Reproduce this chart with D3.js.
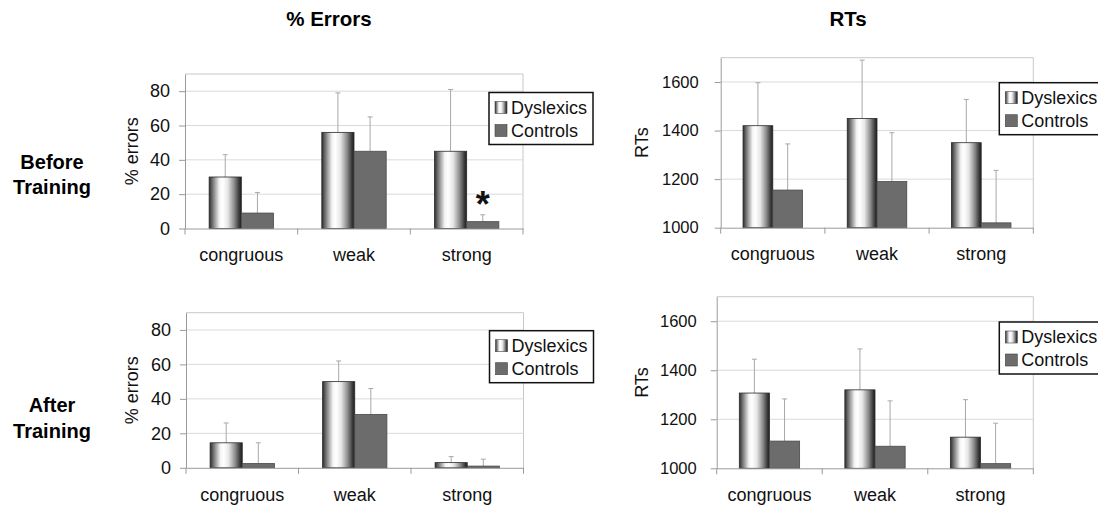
<!DOCTYPE html>
<html>
<head>
<meta charset="utf-8">
<script src="https://cdn.jsdelivr.net/npm/d3@7"></script>
<style>
    body { margin: 0; background: #fff; }
    svg { display: block; font-family: "Liberation Sans", Arial, sans-serif; }
</style>
</head>
<body>
<div id="chart"></div>
<script>
// data
const categories = ["congruous", "weak", "strong"];
const seriesNames = ["Dyslexics", "Controls"];

const errTicks = [0, 20, 40, 60, 80];
const rtTicks = [1000, 1200, 1400, 1600];

// % errors, before training
const errBeforeDys = [30, 56, 45];
const errBeforeDysSD = [13, 23, 36];
const errBeforeCtl = [9, 45, 4];
const errBeforeCtlSD = [12, 20, 4];

// % errors, after training
const errAfterDys = [14.5, 50, 3];
const errAfterDysSD = [11.5, 12, 3.5];
const errAfterCtl = [2.5, 31, 1];
const errAfterCtlSD = [12, 15, 4];

// RTs, before training
const rtBeforeDys = [1420, 1450, 1350];
const rtBeforeDysSD = [177, 240, 178];
const rtBeforeCtl = [1155, 1190, 1020];
const rtBeforeCtlSD = [190, 201, 216];

// RTs, after training
const rtAfterDys = [1307, 1320, 1127];
const rtAfterDysSD = [138, 167, 153];
const rtAfterCtl = [1111, 1090, 1019];
const rtAfterCtlSD = [172, 185, 165];

const svg = d3.select("#chart").append("svg")
    .attr("width", 1098)
    .attr("height", 506);

// gradient for the cylinder-like Dyslexics bars
const grad = svg.append("defs").append("linearGradient")
    .attr("id", "dysGrad")
    .attr("x1", "0%").attr("x2", "100%")
    .attr("y1", "0%").attr("y2", "0%");
[[0, "#2e2e2e"], [0.12, "#7a7a7a"], [0.32, "#f4f4f4"], [0.42, "#ffffff"],
 [0.58, "#e6e6e6"], [0.78, "#8c8c8c"], [0.93, "#3a3a3a"], [1, "#1e1e1e"]]
    .forEach(s => grad.append("stop").attr("offset", s[0]).attr("stop-color", s[1]));

const ctlFill = "#6c6c6c";

function makeRows(dys, dysSD, ctl, ctlSD) {
    return categories.map((c, i) => ({
        cat: c,
        vals: [
            {key: seriesNames[0], v: dys[i], sd: dysSD[i]},
            {key: seriesNames[1], v: ctl[i], sd: ctlSD[i]}
        ]
    }));
}

function drawPanel(p) {
    let g = svg.append("g");

    let x0 = d3.scaleBand()
        .domain(categories)
        .range([p.left, p.right])
        .padding(0);

    let x1 = d3.scaleBand()
        .domain(seriesNames)
        .range([0, x0.bandwidth()])
        .paddingInner(0)
        .paddingOuter(0.75);

    let y = d3.scaleLinear()
        .domain(p.domain)
        .range([p.bottom, p.top]);

    // plot frame (top + right)
    g.append("path")
        .attr("d", `M${p.left},${p.top}H${p.right}V${p.bottom}`)
        .attr("fill", "none")
        .attr("stroke", "#c8c8c8");

    // gridlines
    g.selectAll(".grid")
        .data(p.ticks.slice(1))
        .enter().append("line")
        .attr("x1", p.left).attr("x2", p.right)
        .attr("y1", d => y(d)).attr("y2", d => y(d))
        .attr("stroke", "#dadada");

    // y axis
    let yAxis = d3.axisLeft(y)
        .tickValues(p.ticks)
        .tickSizeInner(6)
        .tickSizeOuter(0)
        .tickPadding(p.tickPad)
        .tickFormat(d3.format("d"));
    let yg = g.append("g")
        .attr("transform", `translate(${p.left},0)`)
        .call(yAxis);
    yg.select(".domain").attr("stroke", "#9a9a9a");
    yg.selectAll(".tick line").attr("stroke", "#9a9a9a");
    yg.selectAll(".tick text")
        .attr("fill", "#111")
        .style("font-size", p.tickFont + "px")
        .style("font-family", "'Liberation Sans', Arial, sans-serif");

    // y title
    g.append("text")
        .attr("transform", `translate(${p.left - p.titleOff},${(p.top + p.bottom) / 2}) rotate(-90)`)
        .attr("text-anchor", "middle")
        .attr("dominant-baseline", "central")
        .style("font-size", "18px")
        .attr("fill", "#111")
        .text(p.yTitle);

    // bars
    let groups = g.selectAll(".cat")
        .data(p.rows)
        .enter().append("g")
        .attr("transform", d => `translate(${x0(d.cat)},0)`);

    // error bars first (drawn behind bar tops)
    groups.selectAll(".err")
        .data(d => d.vals)
        .enter().append("path")
        .attr("d", d => {
            let cx = x1(d.key) + x1.bandwidth() / 2;
            return `M${cx},${y(d.v)}V${y(d.v + d.sd)}M${cx - 2.5},${y(d.v + d.sd)}H${cx + 2.5}`;
        })
        .attr("stroke", "#a8a8a8")
        .attr("fill", "none");

    groups.selectAll(".bar")
        .data(d => d.vals)
        .enter().append("rect")
        .attr("x", d => x1(d.key))
        .attr("y", d => y(d.v))
        .attr("width", x1.bandwidth())
        .attr("height", d => y(p.domain[0]) - y(d.v))
        .attr("fill", d => d.key === "Dyslexics" ? "url(#dysGrad)" : ctlFill)
        .attr("stroke", d => d.key === "Dyslexics" ? "#2a2a2a" : "#4a4a4a")
        .attr("stroke-width", 0.8);

    // x axis
    let xAxis = d3.axisBottom(x0)
        .tickSize(0)
        .tickPadding(20);
    let xg = g.append("g")
        .attr("transform", `translate(0,${p.bottom})`)
        .call(xAxis);
    xg.select(".domain").attr("stroke", "#9a9a9a");
    xg.selectAll(".tick text")
        .attr("fill", "#111")
        .style("font-size", "18px")
        .style("font-family", "'Liberation Sans', Arial, sans-serif");

    // boundary tick marks between categories
    let bounds = categories.map(c => x0(c)).concat([x0.range()[1]]);
    g.selectAll(".btick")
        .data(bounds)
        .enter().append("line")
        .attr("x1", d => d).attr("x2", d => d)
        .attr("y1", p.bottom).attr("y2", p.bottom + 6)
        .attr("stroke", "#9a9a9a");

    // legend
    let lx = p.right - 34, ly = p.top + p.legendOff;
    let lg = g.append("g").attr("transform", `translate(${lx},${ly})`);
    lg.append("rect")
        .attr("width", 104).attr("height", 52)
        .attr("fill", "#fff")
        .attr("stroke", "#111")
        .attr("stroke-width", 1.5);
    let items = lg.selectAll(".li")
        .data(seriesNames)
        .enter().append("g")
        .attr("transform", (d, i) => `translate(6,${15 + i * 23})`);
    items.append("rect")
        .attr("x", 0).attr("y", -6)
        .attr("width", 12).attr("height", 12)
        .attr("fill", d => d === "Dyslexics" ? "url(#dysGrad)" : ctlFill)
        .attr("stroke", "#444")
        .attr("stroke-width", 0.6);
    items.append("text")
        .attr("x", 16)
        .attr("dominant-baseline", "central")
        .style("font-size", "18px")
        .attr("fill", "#111")
        .text(d => d);

    return {x0, x1, y, g};
}

let tl = drawPanel({
    left: 185, right: 523, top: 74, bottom: 228.5,
    domain: [0, 90], ticks: errTicks, tickPad: 9, tickFont: 18,
    yTitle: "% errors", titleOff: 53, legendOff: 18.5,
    rows: makeRows(errBeforeDys, errBeforeDysSD, errBeforeCtl, errBeforeCtlSD)
});

drawPanel({
    left: 186, right: 523.5, top: 312.7, bottom: 467.8,
    domain: [0, 90], ticks: errTicks, tickPad: 9, tickFont: 18,
    yTitle: "% errors", titleOff: 54, legendOff: 18,
    rows: makeRows(errAfterDys, errAfterDysSD, errAfterCtl, errAfterCtlSD)
});

drawPanel({
    left: 720.7, right: 1033.3, top: 57.7, bottom: 227.7,
    domain: [1000, 1700], ticks: rtTicks, tickPad: 16, tickFont: 16.5,
    yTitle: "RTs", titleOff: 79, legendOff: 25,
    rows: makeRows(rtBeforeDys, rtBeforeDysSD, rtBeforeCtl, rtBeforeCtlSD)
});

drawPanel({
    left: 716.7, right: 1033.3, top: 296.7, bottom: 468.3,
    domain: [1000, 1700], ticks: rtTicks, tickPad: 14, tickFont: 16.5,
    yTitle: "RTs", titleOff: 75, legendOff: 25.3,
    rows: makeRows(rtAfterDys, rtAfterDysSD, rtAfterCtl, rtAfterCtlSD)
});

// significance star on strong / Controls (before training)
let si = categories.indexOf("strong");
tl.g.append("text")
    .attr("x", tl.x0("strong") + tl.x1("Controls") + tl.x1.bandwidth() / 2)
    .attr("y", tl.y(errBeforeCtl[si] + errBeforeCtlSD[si]) + 2)
    .attr("text-anchor", "middle")
    .style("font-size", "36px")
    .style("font-weight", "bold")
    .attr("fill", "#111")
    .text("*");

// column titles
svg.append("text")
    .attr("x", 329).attr("y", 26)
    .attr("text-anchor", "middle")
    .style("font-size", "20.5px").style("font-weight", "bold")
    .text("% Errors");
svg.append("text")
    .attr("x", 848).attr("y", 26)
    .attr("text-anchor", "middle")
    .style("font-size", "20.5px").style("font-weight", "bold")
    .text("RTs");

// row titles
const rowTitles = [["Before", "Training"], ["After", "Training"]];
const rowY = [174.5, 418];
rowTitles.forEach((lines, r) => {
    let t = svg.append("text")
        .attr("text-anchor", "middle")
        .style("font-size", "20px").style("font-weight", "bold");
    lines.forEach((ln, i) => {
        t.append("tspan")
            .attr("x", 52)
            .attr("y", rowY[r] + (i - 0.5) * 25.5)
            .attr("dominant-baseline", "central")
            .text(ln);
    });
});
</script>
</body>
</html>
